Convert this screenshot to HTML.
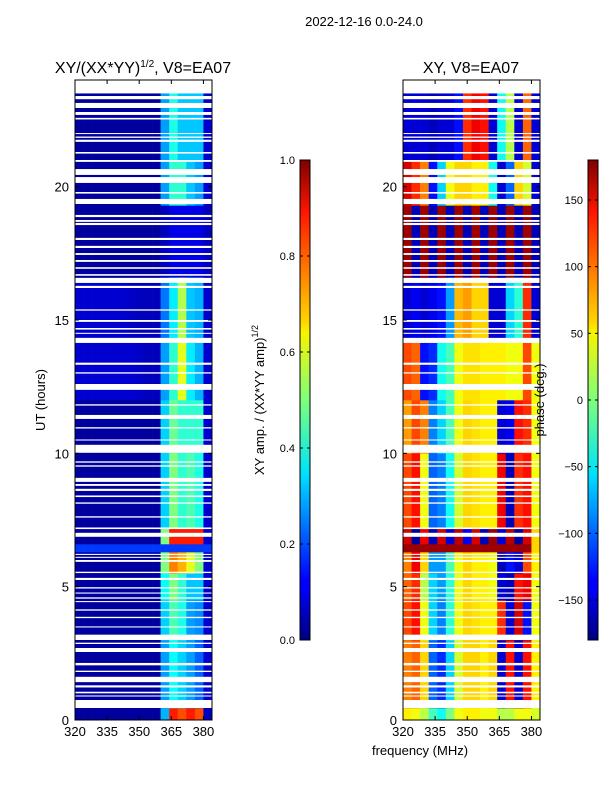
<!DOCTYPE html>
<html><head><meta charset="utf-8"><style>
body{margin:0;background:#fff;}
svg{display:block;font-family:"Liberation Sans","DejaVu Sans",sans-serif;}
</style></head><body>
<svg id="fig" width="600" height="800" xmlns="http://www.w3.org/2000/svg">
<defs>
<linearGradient id="jet" x1="0" y1="1" x2="0" y2="0">
<stop offset="0" stop-color="#00007f"/><stop offset="0.11" stop-color="#0000ff"/>
<stop offset="0.125" stop-color="#0000ff"/><stop offset="0.34" stop-color="#00dbff"/>
<stop offset="0.35" stop-color="#00e4f8"/><stop offset="0.5" stop-color="#7dff7a"/>
<stop offset="0.64" stop-color="#f8f500"/><stop offset="0.66" stop-color="#ffd800"/>
<stop offset="0.89" stop-color="#ff1600"/><stop offset="1" stop-color="#7f0000"/>
</linearGradient>
</defs>
<text x="364" y="26" font-size="13" text-anchor="middle">2022-12-16 0.0-24.0</text>
<g id="left"></g>
<g id="right"></g>
<text x="143" y="73" font-size="16" text-anchor="middle">XY/(XX*YY)<tspan font-size="10" dy="-6">1/2</tspan><tspan dy="6">, V8=EA07</tspan></text>
<text x="471" y="73" font-size="16" text-anchor="middle">XY, V8=EA07</text>
<text transform="translate(45,400) rotate(-90)" font-size="13" text-anchor="middle">UT (hours)</text>
<text x="420" y="755" font-size="13" text-anchor="middle">frequency (MHz)</text>
<text transform="translate(264,400) rotate(-90)" font-size="13" text-anchor="middle">XY amp. / (XX*YY amp)<tspan font-size="9" dy="-6">1/2</tspan></text>
<text transform="translate(544,400) rotate(-90)" font-size="13" text-anchor="middle">phase (deg.)</text>
<g id="cb1"></g>
<g id="cb2"></g>
</svg>
<script>
// ---- data ----
const freqEdges = [320,324,328,332,336,340,344,348,352,356,360,364,368,372,376,380,384];
const bandStart = [0,0.45,3,4.5,5.5,6.3,6.6,7.2,10,12,14.3,16.6,19.3,21];
const bandEnd   = [0.45,3,4.5,5.5,6.3,6.6,7.2,10,12,14.3,16.6,19.3,21,23.5];
const ampRows = [
 [.03,.03,.03,.03,.03,.03,.03,.03,.03,.03,.3,.85,.8,.85,.8,.06],
 [.03,.03,.03,.03,.03,.03,.03,.03,.03,.03,.28,.38,.33,.28,.22,.08],
 [.03,.03,.03,.03,.03,.03,.03,.03,.03,.03,.33,.45,.4,.28,.26,.08],
 [.03,.03,.03,.03,.03,.03,.03,.03,.03,.03,.38,.5,.42,.32,.32,.08],
 [.03,.03,.03,.03,.03,.03,.03,.03,.03,.03,.5,.75,.7,.6,.5,.08],
 [.18,.18,.18,.18,.18,.18,.18,.18,.18,.18,.18,.18,.18,.18,.18,.18],
 [.03,.03,.03,.03,.03,.03,.03,.03,.03,.03,.5,.85,.85,.85,.85,.08],
 [.03,.03,.03,.03,.03,.03,.03,.03,.03,.03,.33,.5,.42,.45,.4,.08],
 [.03,.03,.03,.03,.03,.03,.03,.03,.03,.03,.33,.48,.42,.42,.42,.08],
 [.08,.08,.08,.08,.08,.08,.08,.07,.06,.06,.28,.42,.6,.36,.3,.08],
 [.08,.08,.08,.08,.08,.08,.07,.06,.06,.06,.24,.36,.55,.32,.3,.08],
 [.03,.03,.03,.03,.03,.03,.03,.03,.03,.03,.06,.1,.1,.1,.1,.06],
 [.03,.03,.03,.03,.03,.03,.03,.03,.03,.03,.28,.42,.42,.32,.28,.08],
 [.03,.03,.03,.03,.03,.03,.03,.03,.03,.03,.28,.4,.32,.32,.32,.08]
];
const phaseRows = [
 [50,40,20,-20,-40,0,40,50,50,40,40,20,20,40,40,30],
 [90,100,60,-100,-120,-60,30,60,60,50,60,-150,130,-150,130,50],
 [110,130,40,-60,-90,-30,40,60,55,50,50,120,-150,150,-130,40],
 [100,120,20,-60,-80,-30,40,60,50,50,40,-150,-160,130,140,40],
 [90,140,60,-80,-80,-20,40,60,50,50,40,-160,-130,-150,110,50],
 [170,170,170,170,170,170,170,170,170,170,170,170,170,170,170,60],
 [150,-170,140,-160,150,-150,160,-140,150,-160,170,-150,160,-170,150,60],
 [110,130,40,-100,-90,-40,30,60,55,50,50,140,-160,120,130,40],
 [80,110,90,-90,-60,-20,40,60,55,50,50,-150,-140,130,120,40],
 [110,100,-130,-120,-40,-20,40,55,55,50,50,50,40,40,110,40],
 [-150,-140,-150,-140,-130,-80,70,80,60,60,-150,-150,-60,-30,120,-150],
 [170,-160,170,-160,170,-160,170,-160,170,-160,170,-160,170,-160,170,-160],
 [150,120,90,-130,-60,40,60,60,50,50,-40,-150,-100,60,30,-150],
 [-150,-150,-150,-160,-150,-150,-130,120,140,130,-150,-40,20,-150,100,-150]
];
const blankStart = [23.5,23.28,22.95,22.69,22.52,21.98,21.83,21.68,21.24,20.93,20.44,20.14,19.74,19.35,18.86,18.68,18.56,18.0,17.7,17.44,17.18,16.92,16.66,16.39,16.2,15.35,14.93,14.64,14.48,14.14,13.32,12.99,12.38,11.79,11.29,10.93,10.48,10.02,9.65,9.5,8.93,8.78,8.59,8.36,8.11,7.59,7.16,6.87,6.19,6.08,5.93,5.51,5.25,4.93,4.74,4.55,4.42,4.1,3.82,3.47,3.0,2.85,2.55,2.05,1.8,1.42,1.22,1.0,0.88,0.45];
const blankEnd   = [24,23.4,23.14,22.8,22.58,22.01,21.88,21.76,21.3,21.0,20.66,20.36,19.8,19.54,18.94,18.75,18.64,18.08,17.78,17.51,17.25,16.98,16.72,16.58,16.28,15.4,15.0,14.7,14.52,14.33,13.4,13.04,12.6,11.84,11.44,10.98,10.52,10.32,9.7,9.55,9.08,8.85,8.67,8.42,8.16,7.64,7.22,7.02,6.23,6.12,6.0,5.56,5.33,4.98,4.78,4.6,4.46,4.15,3.87,3.51,3.2,2.9,2.7,2.14,1.85,1.62,1.3,1.06,0.92,0.75];
const xTicks = [320,335,350,365,380];
const yTicks = [0,5,10,15,20];
const ampTicks = [0,0.2,0.4,0.6,0.8,1.0];
const phaseTicks = [-150,-100,-50,0,50,100,150];

// ---- helpers ----
const NS="http://www.w3.org/2000/svg";
function mk(tag,attrs,parent){const e=document.createElementNS(NS,tag);for(const k in attrs)e.setAttribute(k,attrs[k]);parent.appendChild(e);return e;}
function jet(v){v=Math.max(0,Math.min(1,v));
 const r=Math.max(0,Math.min(1,1.5-Math.abs(4*v-3))),g=Math.max(0,Math.min(1,1.5-Math.abs(4*v-2))),b=Math.max(0,Math.min(1,1.5-Math.abs(4*v-1)));
 return `rgb(${Math.round(r*255)},${Math.round(g*255)},${Math.round(b*255)})`;}
const Y0=80,Y1=720;
const yScale=h=>Y1-(h/24)*(Y1-Y0);

function panel(gid,x0,x1,rows,norm,prefix){
 const g=document.getElementById(gid);
 const xs=f=>x0+(f-320)/(384-320)*(x1-x0);
 rows.forEach((row,bi)=>{
  row.forEach((v,ci)=>{
   const r=mk('rect',{x:xs(freqEdges[ci]),y:yScale(bandEnd[bi]),width:xs(freqEdges[ci+1])-xs(freqEdges[ci])+0.3,height:yScale(bandStart[bi])-yScale(bandEnd[bi])+0.3,fill:jet(norm(v))},g);
   
   
  });
 });
 blankStart.forEach((s,i)=>{
  const r=mk('rect',{x:x0,y:yScale(blankEnd[i]),width:x1-x0,height:Math.max(1,yScale(s)-yScale(blankEnd[i])),fill:'#fff'},g);
  
  
 });
 const fr=mk('rect',{x:x0,y:Y0,width:x1-x0,height:Y1-Y0,fill:'none',stroke:'#000','stroke-width':1},g);
 
 
 xTicks.forEach(t=>{
  const x=xs(t);
  mk('line',{x1:x,x2:x,y1:Y1,y2:Y1-4,stroke:'#000'},g);
  mk('line',{x1:x,x2:x,y1:Y0,y2:Y0+4,stroke:'#000'},g);
  const tx=mk('text',{x:x,y:Y1+16,'font-size':13,'text-anchor':'middle'},g);
  tx.textContent=t;
  
  
 });
 yTicks.forEach(t=>{
  const y=yScale(t);
  mk('line',{x1:x0,x2:x0+4,y1:y,y2:y,stroke:'#000'},g);
  mk('line',{x1:x1,x2:x1-4,y1:y,y2:y,stroke:'#000'},g);
  const tx=mk('text',{x:x0-6,y:y+5,'font-size':13,'text-anchor':'end'},g);
  tx.textContent=t;
  
  
 });
}
panel('left',75,212,ampRows,v=>v,'amplitude');
panel('right',403,540,phaseRows,v=>(v+180)/360,'phase');

function colorbar(gid,x,ticks,norm,fmt){
 const g=document.getElementById(gid);
 const r=mk('rect',{x:x,y:160,width:10,height:480,fill:'url(#jet)',stroke:'#000','stroke-width':1},g);
 
 
 ticks.forEach(t=>{
  const y=640-norm(t)*480;
  mk('line',{x1:x,x2:x+3,y1:y,y2:y,stroke:'#000'},g);
  mk('line',{x1:x+10,x2:x+7,y1:y,y2:y,stroke:'#000'},g);
  const tx=mk('text',{x:x-5,y:y+4,'font-size':11,'text-anchor':'end'},g);
  tx.textContent=fmt(t);
  
  
 });
}
colorbar('cb1',300,ampTicks,v=>v,t=>t.toFixed(1));
colorbar('cb2',588,phaseTicks,v=>(v+180)/360,t=>t<0?'\u2212'+(-t):String(t));
</script>
</body></html>
